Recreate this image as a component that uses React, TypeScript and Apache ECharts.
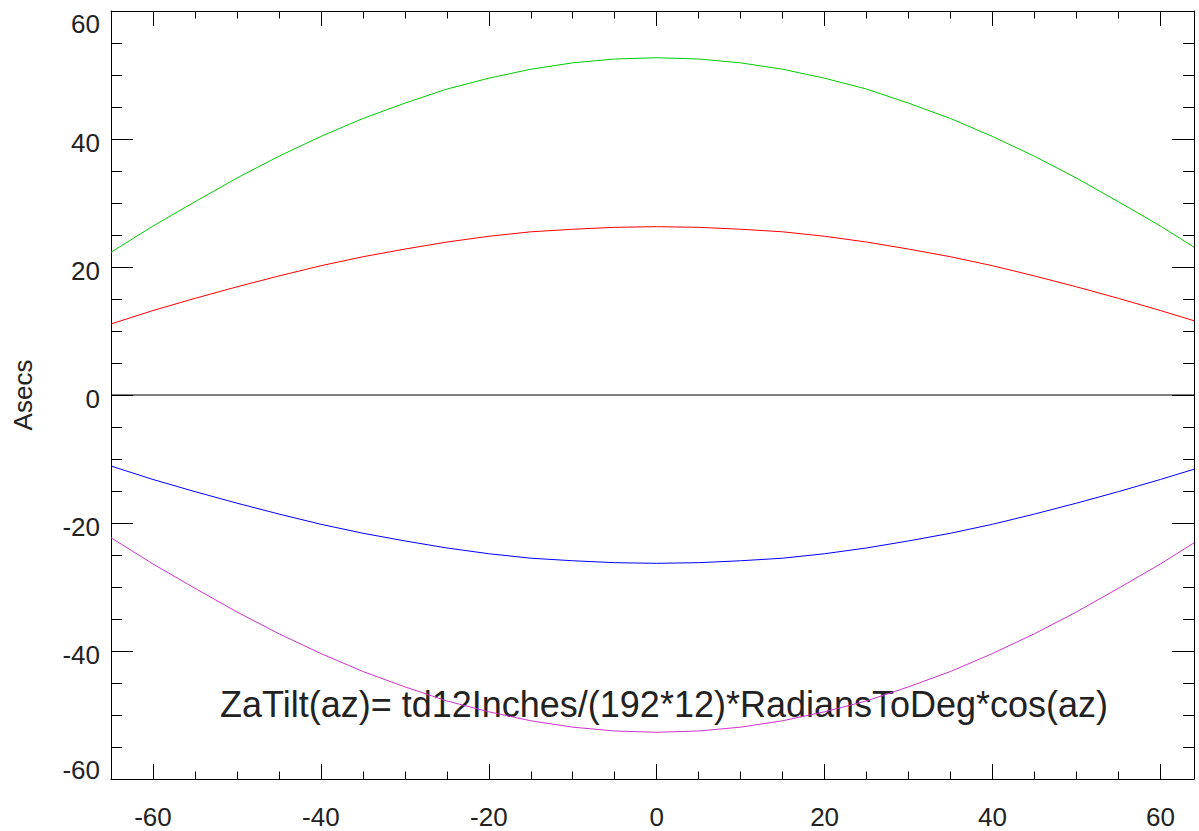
import React, { useEffect, useRef } from "react";
import * as echarts from "echarts";

const AZ = [-65, -60, -55, -50, -45, -40, -35, -30, -25, -20, -15, -10, -5, 0, 5, 10, 15, 20, 25, 30, 35, 40, 45, 50, 55, 60, 64];
const GREEN = [22.3, 26.4, 30.2, 33.9, 37.3, 40.4, 43.2, 45.6, 47.8, 49.5, 50.9, 51.9, 52.5, 52.7, 52.5, 51.9, 50.9, 49.5, 47.8, 45.6, 43.2, 40.4, 37.3, 33.9, 30.2, 26.4, 23.1];
const RED = [11.1, 13.2, 15.1, 16.9, 18.6, 20.2, 21.6, 22.8, 23.9, 24.8, 25.5, 25.9, 26.2, 26.3, 26.2, 25.9, 25.5, 24.8, 23.9, 22.8, 21.6, 20.2, 18.6, 16.9, 15.1, 13.2, 11.6];
const BLUE = [-11.1, -13.2, -15.1, -16.9, -18.6, -20.2, -21.6, -22.8, -23.9, -24.8, -25.5, -25.9, -26.2, -26.3, -26.2, -25.9, -25.5, -24.8, -23.9, -22.8, -21.6, -20.2, -18.6, -16.9, -15.1, -13.2, -11.6];
const MAGENTA = [-22.3, -26.4, -30.2, -33.9, -37.3, -40.4, -43.2, -45.6, -47.8, -49.5, -50.9, -51.9, -52.5, -52.7, -52.5, -51.9, -50.9, -49.5, -47.8, -45.6, -43.2, -40.4, -37.3, -33.9, -30.2, -26.4, -23.1];
const ZERO_X = [-65, 64];
const ZERO_Y = [0, 0];
const X_MAJOR = [-60, -40, -20, 0, 20, 40, 60];
const X_MINOR = [-65, -55, -50, -45, -35, -30, -25, -15, -10, -5, 5, 10, 15, 25, 30, 35, 45, 50, 55];
const Y_LABEL = "Asecs";
const FORMULA = "ZaTilt(az)= td12Inches/(192*12)*RadiansToDeg*cos(az)";

const FONT = "'Liberation Sans', Arial, Helvetica, sans-serif";
const TXT = "#222";

export default function App() {
  const ref = useRef<HTMLDivElement>(null);
  useEffect(() => {
    if (!ref.current) return;
    const chart = echarts.init(ref.current, undefined, { renderer: "svg" });
    const pair = (ys: number[]) => AZ.map((x, i) => [x, ys[i]]);
    const xBase = (pos: "top" | "bottom", major: boolean, showLine: boolean) => ({
      type: "value",
      position: pos,
      min: -65,
      max: 64,
      splitLine: { show: false },
      axisLine: { show: showLine, onZero: false, lineStyle: { color: "#000", width: 1 } },
      axisTick: {
        show: true,
        inside: true,
        length: major ? 15 : 7.5,
        customValues: major ? X_MAJOR : X_MINOR,
        lineStyle: { color: "#000", width: 1 },
      },
      axisLabel: major && pos === "bottom"
        ? { show: true, customValues: X_MAJOR, fontSize: 26, fontFamily: FONT, color: TXT, margin: 25 }
        : { show: false },
    });
    const labelStyle = { fontSize: 26, fontFamily: FONT, color: TXT };
    const yBase = (pos: "left" | "right") => ({
      type: "value",
      position: pos,
      min: -60,
      max: 60,
      interval: 20,
      splitLine: { show: false },
      axisLine: { show: true, onZero: false, lineStyle: { color: "#000", width: 1 } },
      axisTick: { show: true, inside: true, length: 22, lineStyle: { color: "#000", width: 1 } },
      minorTick: { show: true, splitNumber: 4, length: 11, lineStyle: { color: "#000", width: 1 } },
      axisLabel: pos === "left"
        ? {
            show: true,
            margin: 11,
            ...labelStyle,
            formatter: (v: number) =>
              v === 60 ? `{top|${v}}` : v === -60 ? `{bot|${v}}` : `{n|${v}}`,
            rich: {
              top: { ...labelStyle, padding: [26, 0, 0, 0] },
              bot: { ...labelStyle, padding: [0, 0, 18, 0] },
              n: { ...labelStyle, padding: [7, 0, 0, 0] },
            },
          }
        : { show: false },
    });
    const line = (data: number[][], color: string) => ({
      type: "line",
      data,
      showSymbol: false,
      symbol: "none",
      lineStyle: { color, width: 1 },
      xAxisIndex: 0,
      yAxisIndex: 0,
      silent: true,
    });
    chart.setOption({
      animation: false,
      backgroundColor: "#fff",
      grid: { left: 111, top: 11, right: 5, bottom: 52, containLabel: false },
      xAxis: [
        xBase("bottom", true, true),
        xBase("bottom", false, false),
        xBase("top", true, true),
        xBase("top", false, false),
      ],
      yAxis: [yBase("left"), yBase("right")],
      series: [
        line(ZERO_X.map((x, i) => [x, ZERO_Y[i]]), "#000"),
        line(pair(GREEN), "#00cc00"),
        line(pair(RED), "#ff0000"),
        line(pair(BLUE), "#0000ff"),
        line(pair(MAGENTA), "#cc33cc"),
      ],
      graphic: [
        {
          type: "text",
          x: 23,
          y: 395,
          rotation: Math.PI / 2,
          style: { text: Y_LABEL, fontSize: 26, fontFamily: FONT, fill: TXT, align: "center", verticalAlign: "middle" },
        },
        {
          type: "text",
          x: 220,
          y: 704,
          style: { text: FORMULA, fontSize: 36, fontFamily: FONT, fill: TXT, align: "left", verticalAlign: "middle" },
        },
      ],
    });
    return () => chart.dispose();
  }, []);
  return (
    <div
      ref={ref}
      style={{ position: "fixed", left: 0, top: 0, width: 1199, height: 831, background: "#fff" }}
    />
  );
}
